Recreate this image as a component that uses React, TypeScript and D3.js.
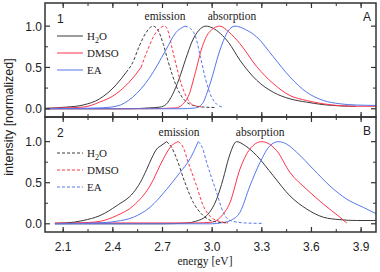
import React from "react";
import * as d3 from "d3";

type P = [number, number];

// ---------- Panel 1 (A) ----------
const emH2O_A: P[] = [[1.99,0.005],[2.05,0.01],[2.12,0.02],[2.22,0.045],[2.32,0.12],[2.42,0.29],[2.48,0.44],[2.52,0.56],[2.56,0.76],[2.60,0.92],[2.643,1.0],[2.67,0.96],[2.705,0.78],[2.73,0.6],[2.756,0.43],[2.78,0.29],[2.806,0.18],[2.84,0.09],[2.886,0.04],[2.95,0.02],[3.02,0.015]];
const emDMSO_A: P[] = [[1.99,0.003],[2.10,0.01],[2.22,0.02],[2.32,0.08],[2.42,0.18],[2.52,0.37],[2.57,0.50],[2.61,0.71],[2.65,0.89],[2.715,1.0],[2.735,0.93],[2.756,0.75],[2.775,0.59],[2.795,0.43],[2.815,0.29],[2.836,0.18],[2.86,0.09],[2.88,0.05],[2.945,0.02]];
const emEA_A: P[] = [[1.99,0.0],[2.2,0.005],[2.32,0.01],[2.42,0.03],[2.52,0.14],[2.62,0.37],[2.72,0.71],[2.78,0.92],[2.836,1.0],[2.87,0.97],[2.90,0.87],[2.93,0.62],[2.96,0.36],[2.99,0.17],[3.02,0.07],[3.06,0.02]];
const abH2O_A: P[] = [[1.99,0.0],[2.5,0.0],[2.62,0.01],[2.685,0.02],[2.72,0.05],[2.76,0.17],[2.80,0.36],[2.84,0.60],[2.88,0.82],[2.92,0.95],[2.963,1.0],[3.0,0.98],[3.05,0.91],[3.10,0.80],[3.167,0.59],[3.269,0.345],[3.369,0.20],[3.47,0.12],[3.57,0.08],[3.67,0.05],[3.77,0.035],[3.87,0.03]];
const abDMSO_A: P[] = [[1.99,0.0],[2.6,0.0],[2.78,0.01],[2.82,0.05],[2.86,0.17],[2.90,0.45],[2.94,0.75],[2.98,0.92],[3.047,1.0],[3.10,0.93],[3.167,0.79],[3.269,0.51],[3.369,0.305],[3.47,0.16],[3.57,0.10],[3.67,0.06],[3.87,0.03],[3.99,0.03]];
const abEA_A: P[] = [[1.99,0.0],[2.8,0.0],[2.90,0.01],[2.94,0.06],[2.987,0.3],[3.047,0.71],[3.09,0.92],[3.138,1.0],[3.20,0.96],[3.269,0.87],[3.369,0.63],[3.47,0.385],[3.571,0.20],[3.672,0.10],[3.772,0.06],[3.873,0.045],[3.99,0.04]];

// ---------- Panel 2 (B) ----------
const emH2O_B: P[] = [[2.05,0.005],[2.121,0.01],[2.22,0.04],[2.322,0.10],[2.423,0.22],[2.524,0.38],[2.565,0.5],[2.605,0.665],[2.635,0.8],[2.665,0.91],[2.69,0.95],[2.725,1.0],[2.755,0.93],[2.786,0.79],[2.836,0.50],[2.886,0.26],[2.946,0.10],[3.007,0.03],[3.096,0.01]];
const emDMSO_B: P[] = [[2.05,0.003],[2.2,0.01],[2.322,0.03],[2.423,0.10],[2.524,0.22],[2.624,0.46],[2.705,0.79],[2.75,0.94],[2.795,1.0],[2.825,0.93],[2.856,0.745],[2.906,0.46],[2.946,0.22],[2.975,0.12],[3.007,0.06],[3.096,0.01]];
const emEA_B: P[] = [[2.05,0.0],[2.3,0.01],[2.42,0.03],[2.524,0.08],[2.624,0.20],[2.725,0.42],[2.806,0.625],[2.866,0.79],[2.916,1.0],[2.94,0.93],[2.967,0.745],[3.027,0.38],[3.067,0.14],[3.108,0.04],[3.2,0.01],[3.309,0.005]];
const abH2O_B: P[] = [[2.05,0.0],[2.7,0.0],[2.85,0.01],[2.90,0.03],[2.967,0.10],[3.027,0.30],[3.067,0.55],[3.10,0.80],[3.148,1.0],[3.20,0.95],[3.269,0.83],[3.369,0.585],[3.47,0.34],[3.571,0.18],[3.672,0.08],[3.772,0.05],[3.873,0.04],[3.99,0.04]];
const abDMSO_B: P[] = [[2.05,0.01],[2.9,0.01],[3.0,0.02],[3.05,0.08],[3.108,0.26],[3.168,0.665],[3.228,0.91],[3.299,1.0],[3.39,0.89],[3.47,0.625],[3.571,0.42],[3.672,0.24],[3.772,0.08],[3.813,0.01]];
const abEA_B: P[] = [[2.05,0.0],[3.0,0.0],[3.05,0.01],[3.11,0.04],[3.168,0.14],[3.228,0.46],[3.289,0.745],[3.349,0.95],[3.40,1.0],[3.45,0.97],[3.511,0.87],[3.611,0.665],[3.712,0.46],[3.813,0.30],[3.913,0.20],[3.994,0.12]];

const xTicks = [2.1, 2.4, 2.7, 3.0, 3.3, 3.6, 3.9];
const yTicks = [0.0, 0.5, 1.0];
const solvents = ["H\u2082O", "DMSO", "EA"];

const BLACK = "#3a3a3a";
const RED = "#ff3349";
const BLUE = "#5577ee";
const colors = [BLACK, RED, BLUE];

const L = 45, R = 376;
const x = d3.scaleLinear().domain([1.99, 3.99]).range([L, R]);

interface Panel {
  top: number; bottom: number; dom: [number, number];
  em: P[][]; ab: P[][]; dashFrom: number[];
  num: string; letter: string; legendDashed: boolean; legendTop: number;
  emLabel: [number, number]; abLabel: [number, number];
}

const panels: Panel[] = [
  { top: 3, bottom: 117, dom: [-0.1, 1.28], em: [emH2O_A, emDMSO_A, emEA_A], ab: [abH2O_A, abDMSO_A, abEA_A],
    dashFrom: [2.49, 2.57, 2.836], num: "1", letter: "A", legendDashed: false, legendTop: 36,
    emLabel: [2.715, 1.07], abLabel: [3.12, 1.07] },
  { top: 117, bottom: 232, dom: [-0.1, 1.3], em: [emH2O_B, emDMSO_B, emEA_B], ab: [abH2O_B, abDMSO_B, abEA_B],
    dashFrom: [2.725, 2.795, 2.916], num: "2", letter: "B", legendDashed: true, legendTop: 153,
    emLabel: [2.80, 1.07], abLabel: [3.29, 1.07] },
];

const serif = "'Liberation Serif', 'Times New Roman', serif";
const sans = "'Liberation Sans', Arial, sans-serif";

function PanelView({ p, idx }: { p: Panel; idx: number }) {
  const y = d3.scaleLinear().domain(p.dom).range([p.bottom, p.top]);
  const line = d3.line<P>().x(d => x(d[0])).y(d => y(d[1])).curve(d3.curveMonotoneX);
  const minor = d3.range(2.1 - 0.15, 4.0, 0.15).filter(v => v > 1.99 && v < 3.99);
  const yMinor = [0.25, 0.75];
  const clipId = `clip${idx}`;
  const splitAt = (pts: P[], e: number): [P[], P[]] => {
    const a = pts.filter(d => d[0] <= e);
    const b = pts.filter(d => d[0] >= e);
    const i = pts.findIndex(d => d[0] > e);
    if (i > 0 && a[a.length - 1][0] !== e) { b.unshift(pts[i - 1]); }
    return [a, b];
  };
  return (
    <g>
      <defs>
        <clipPath id={clipId}><rect x={L} y={p.top} width={R - L} height={p.bottom - p.top} /></clipPath>
      </defs>
      <g clipPath={`url(#${clipId})`} fill="none" strokeWidth={1}>
        {p.ab.map((s, i) => <path key={"a" + i} d={line(s) || ""} stroke={colors[i]} />)}
        {p.em.map((s, i) => {
          const [a, b] = splitAt(s, p.dashFrom[i]);
          return (
            <g key={"e" + i}>
              <path d={line(a) || ""} stroke={colors[i]} />
              <path d={line(b) || ""} stroke={colors[i]} strokeDasharray="3,2" />
            </g>
          );
        })}
      </g>
      <rect x={L} y={p.top} width={R - L} height={p.bottom - p.top} fill="none" stroke="#333" strokeWidth={1.5} />
      {xTicks.map(t => (
        <g key={"xt" + t}>
          <line x1={x(t)} x2={x(t)} y1={p.bottom} y2={p.bottom - 5} stroke="#333" strokeWidth={1.2} />
          <line x1={x(t)} x2={x(t)} y1={p.top} y2={p.top + 5} stroke="#333" strokeWidth={1.2} />
        </g>
      ))}
      {minor.map(t => (
        <g key={"xm" + t}>
          <line x1={x(t)} x2={x(t)} y1={p.bottom} y2={p.bottom - 3} stroke="#333" strokeWidth={1} />
          <line x1={x(t)} x2={x(t)} y1={p.top} y2={p.top + 3} stroke="#333" strokeWidth={1} />
        </g>
      ))}
      {yTicks.map(t => (
        <g key={"yt" + t}>
          <line x1={L} x2={L + 5} y1={y(t)} y2={y(t)} stroke="#333" strokeWidth={1.2} />
          <line x1={R} x2={R - 5} y1={y(t)} y2={y(t)} stroke="#333" strokeWidth={1.2} />
          <text x={L - 3} y={y(t) + 4.5} textAnchor="end" fontFamily={sans} fontSize={12} fill="#222">{t.toFixed(1)}</text>
        </g>
      ))}
      {yMinor.map(t => (
        <g key={"ym" + t}>
          <line x1={L} x2={L + 3} y1={y(t)} y2={y(t)} stroke="#333" strokeWidth={1} />
          <line x1={R} x2={R - 3} y1={y(t)} y2={y(t)} stroke="#333" strokeWidth={1} />
        </g>
      ))}
      <text x={L + 12} y={p.top + 20} fontFamily={sans} fontSize={12} fill="#222">{p.num}</text>
      <text x={R - 5} y={p.top + 18} textAnchor="end" fontFamily={sans} fontSize={12} fill="#222">{p.letter}</text>
      <text x={x(p.emLabel[0])} y={y(p.emLabel[1])} textAnchor="middle" fontFamily={serif} fontSize={11.5} fill="#222">emission</text>
      <text x={x(p.abLabel[0])} y={y(p.abLabel[1])} textAnchor="middle" fontFamily={serif} fontSize={11.5} fill="#222">absorption</text>
      {solvents.map((s, i) => {
        const ly = p.legendTop + i * 17;
        return (
          <g key={"lg" + i}>
            <line x1={57} x2={83} y1={ly} y2={ly} stroke={colors[i]} strokeWidth={1} strokeDasharray={p.legendDashed ? "3,2" : undefined} />
            <text x={87} y={ly + 4} fontFamily={serif} fontSize={11} fill="#222">
              {i === 0 ? (<>H<tspan fontSize={8} dy={3}>2</tspan><tspan dy={-3}>O</tspan></>) : s}
            </text>
          </g>
        );
      })}
    </g>
  );
}

export default function App() {
  return (
    <svg width={380} height={272} style={{ position: "absolute", left: 0, top: 0, background: "#fff" }}>
      {panels.map((p, i) => <PanelView key={i} p={p} idx={i} />)}
      {xTicks.map(t => (
        <text key={"xl" + t} x={x(t)} y={251} textAnchor="middle" fontFamily={sans} fontSize={12} fill="#222">{t.toFixed(1)}</text>
      ))}
      <text x={205} y={265} textAnchor="middle" fontFamily={serif} fontSize={11.5} fill="#222">energy [eV]</text>
      <text transform={`translate(13,117) rotate(-90)`} textAnchor="middle" fontFamily={sans} fontSize={12.5} fill="#222">intensity [normalized]</text>
    </svg>
  );
}
